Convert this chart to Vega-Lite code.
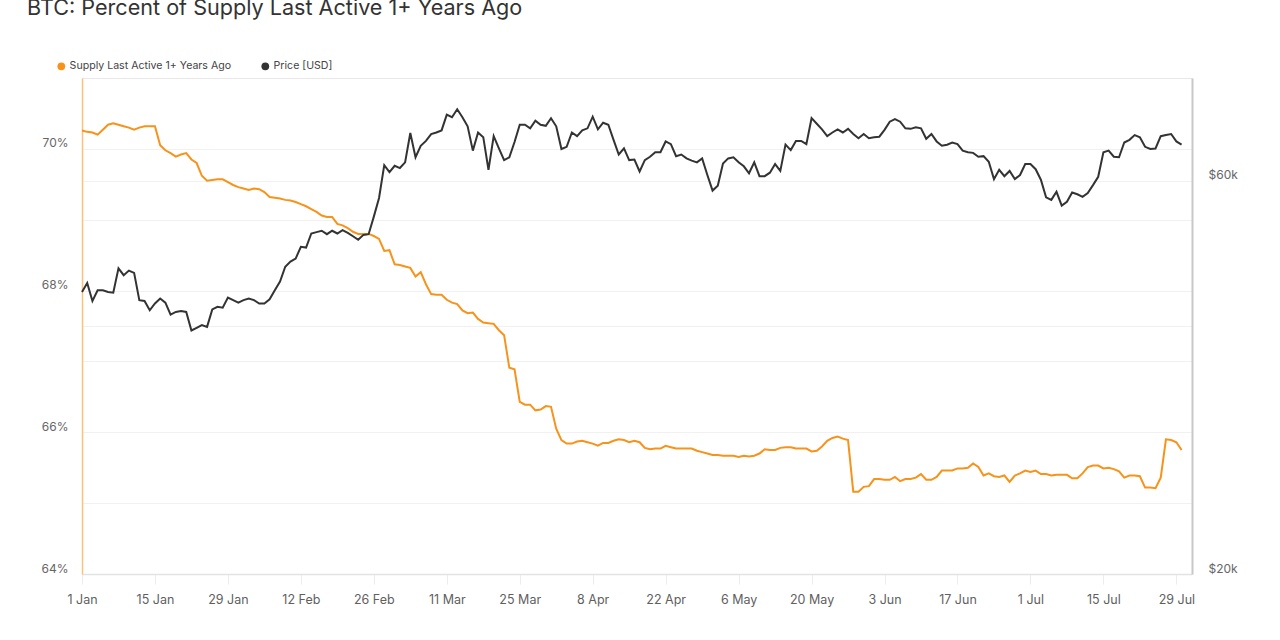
{
  "$schema": "https://vega.github.io/schema/vega-lite/v6.json",
  "width": 1110,
  "height": 496,
  "autosize": {"type": "none"},
  "padding": {"left": 82, "top": 78, "right": 88, "bottom": 66},
  "background": "white",
  "title": {"text": "BTC: Percent of Supply Last Active 1+ Years Ago", "anchor": "start", "frame": "group", "dx": -55, "offset": 41, "fontSize": 21.6, "font": "Inter", "fontWeight": "normal", "color": "#333333"},
  "config": {
    "view": {"stroke": "#e8e8e8"},
    "axis": {"labelFont": "Inter", "labelFontSize": 12, "labelColor": "#666666", "gridColor": "#f1f1f1", "titleFont": "Inter"}
  },
  "data": {"values": [
    {"date": "2024-01-01", "supply": 70.26, "price": 44000},
    {"date": "2024-01-02", "supply": 70.24, "price": 45100},
    {"date": "2024-01-03", "supply": 70.23, "price": 42900},
    {"date": "2024-01-04", "supply": 70.20, "price": 44200},
    {"date": "2024-01-05", "supply": 70.27, "price": 44200},
    {"date": "2024-01-06", "supply": 70.34, "price": 44000},
    {"date": "2024-01-07", "supply": 70.36, "price": 43900},
    {"date": "2024-01-08", "supply": 70.34, "price": 47000},
    {"date": "2024-01-09", "supply": 70.32, "price": 46100},
    {"date": "2024-01-10", "supply": 70.30, "price": 46700},
    {"date": "2024-01-11", "supply": 70.27, "price": 46400},
    {"date": "2024-01-12", "supply": 70.30, "price": 43000},
    {"date": "2024-01-13", "supply": 70.32, "price": 42900},
    {"date": "2024-01-14", "supply": 70.32, "price": 41800},
    {"date": "2024-01-15", "supply": 70.32, "price": 42600},
    {"date": "2024-01-16", "supply": 70.05, "price": 43200},
    {"date": "2024-01-17", "supply": 69.98, "price": 42700},
    {"date": "2024-01-18", "supply": 69.94, "price": 41300},
    {"date": "2024-01-19", "supply": 69.89, "price": 41600},
    {"date": "2024-01-20", "supply": 69.92, "price": 41700},
    {"date": "2024-01-21", "supply": 69.94, "price": 41600},
    {"date": "2024-01-22", "supply": 69.85, "price": 39500},
    {"date": "2024-01-23", "supply": 69.80, "price": 39800},
    {"date": "2024-01-24", "supply": 69.62, "price": 40100},
    {"date": "2024-01-25", "supply": 69.55, "price": 39900},
    {"date": "2024-01-26", "supply": 69.56, "price": 41900},
    {"date": "2024-01-27", "supply": 69.57, "price": 42200},
    {"date": "2024-01-28", "supply": 69.57, "price": 42100},
    {"date": "2024-01-29", "supply": 69.53, "price": 43300},
    {"date": "2024-01-30", "supply": 69.49, "price": 43000},
    {"date": "2024-01-31", "supply": 69.46, "price": 42700},
    {"date": "2024-02-01", "supply": 69.44, "price": 43000},
    {"date": "2024-02-02", "supply": 69.42, "price": 43200},
    {"date": "2024-02-03", "supply": 69.44, "price": 43000},
    {"date": "2024-02-04", "supply": 69.43, "price": 42600},
    {"date": "2024-02-05", "supply": 69.39, "price": 42600},
    {"date": "2024-02-06", "supply": 69.32, "price": 43100},
    {"date": "2024-02-07", "supply": 69.31, "price": 44200},
    {"date": "2024-02-08", "supply": 69.30, "price": 45300},
    {"date": "2024-02-09", "supply": 69.28, "price": 47200},
    {"date": "2024-02-10", "supply": 69.27, "price": 47900},
    {"date": "2024-02-11", "supply": 69.25, "price": 48300},
    {"date": "2024-02-12", "supply": 69.22, "price": 49900},
    {"date": "2024-02-13", "supply": 69.19, "price": 49800},
    {"date": "2024-02-14", "supply": 69.15, "price": 51800},
    {"date": "2024-02-15", "supply": 69.11, "price": 52000},
    {"date": "2024-02-16", "supply": 69.06, "price": 52200},
    {"date": "2024-02-17", "supply": 69.04, "price": 51700},
    {"date": "2024-02-18", "supply": 69.04, "price": 52200},
    {"date": "2024-02-19", "supply": 68.94, "price": 51800},
    {"date": "2024-02-20", "supply": 68.92, "price": 52300},
    {"date": "2024-02-21", "supply": 68.88, "price": 51900},
    {"date": "2024-02-22", "supply": 68.83, "price": 51400},
    {"date": "2024-02-23", "supply": 68.80, "price": 50900},
    {"date": "2024-02-24", "supply": 68.80, "price": 51600},
    {"date": "2024-02-25", "supply": 68.80, "price": 51700},
    {"date": "2024-02-26", "supply": 68.77, "price": 54300},
    {"date": "2024-02-27", "supply": 68.73, "price": 57200},
    {"date": "2024-02-28", "supply": 68.56, "price": 62700},
    {"date": "2024-02-29", "supply": 68.57, "price": 61500},
    {"date": "2024-03-01", "supply": 68.37, "price": 62600},
    {"date": "2024-03-02", "supply": 68.36, "price": 62200},
    {"date": "2024-03-03", "supply": 68.34, "price": 63200},
    {"date": "2024-03-04", "supply": 68.32, "price": 68600},
    {"date": "2024-03-05", "supply": 68.20, "price": 64100},
    {"date": "2024-03-06", "supply": 68.26, "price": 66200},
    {"date": "2024-03-07", "supply": 68.09, "price": 67100},
    {"date": "2024-03-08", "supply": 67.95, "price": 68400},
    {"date": "2024-03-09", "supply": 67.94, "price": 68700},
    {"date": "2024-03-10", "supply": 67.94, "price": 69100},
    {"date": "2024-03-11", "supply": 67.87, "price": 72200},
    {"date": "2024-03-12", "supply": 67.83, "price": 71700},
    {"date": "2024-03-13", "supply": 67.81, "price": 73300},
    {"date": "2024-03-14", "supply": 67.72, "price": 71700},
    {"date": "2024-03-15", "supply": 67.68, "price": 69900},
    {"date": "2024-03-16", "supply": 67.69, "price": 65300},
    {"date": "2024-03-17", "supply": 67.60, "price": 68700},
    {"date": "2024-03-18", "supply": 67.55, "price": 67800},
    {"date": "2024-03-19", "supply": 67.54, "price": 61900},
    {"date": "2024-03-20", "supply": 67.53, "price": 68000},
    {"date": "2024-03-21", "supply": 67.44, "price": 65700},
    {"date": "2024-03-22", "supply": 67.37, "price": 63600},
    {"date": "2024-03-23", "supply": 66.91, "price": 64100},
    {"date": "2024-03-24", "supply": 66.89, "price": 66900},
    {"date": "2024-03-25", "supply": 66.43, "price": 70200},
    {"date": "2024-03-26", "supply": 66.39, "price": 70200},
    {"date": "2024-03-27", "supply": 66.39, "price": 69500},
    {"date": "2024-03-28", "supply": 66.31, "price": 71000},
    {"date": "2024-03-29", "supply": 66.32, "price": 70200},
    {"date": "2024-03-30", "supply": 66.37, "price": 70000},
    {"date": "2024-03-31", "supply": 66.36, "price": 71500},
    {"date": "2024-04-01", "supply": 66.05, "price": 69900},
    {"date": "2024-04-02", "supply": 65.89, "price": 65600},
    {"date": "2024-04-03", "supply": 65.84, "price": 66000},
    {"date": "2024-04-04", "supply": 65.84, "price": 68700},
    {"date": "2024-04-05", "supply": 65.87, "price": 68000},
    {"date": "2024-04-06", "supply": 65.88, "price": 69100},
    {"date": "2024-04-07", "supply": 65.86, "price": 69500},
    {"date": "2024-04-08", "supply": 65.84, "price": 71800},
    {"date": "2024-04-09", "supply": 65.81, "price": 69300},
    {"date": "2024-04-10", "supply": 65.85, "price": 70600},
    {"date": "2024-04-11", "supply": 65.85, "price": 70200},
    {"date": "2024-04-12", "supply": 65.88, "price": 67300},
    {"date": "2024-04-13", "supply": 65.90, "price": 64600},
    {"date": "2024-04-14", "supply": 65.89, "price": 65700},
    {"date": "2024-04-15", "supply": 65.86, "price": 63600},
    {"date": "2024-04-16", "supply": 65.88, "price": 63700},
    {"date": "2024-04-17", "supply": 65.86, "price": 61600},
    {"date": "2024-04-18", "supply": 65.78, "price": 63600},
    {"date": "2024-04-19", "supply": 65.76, "price": 64200},
    {"date": "2024-04-20", "supply": 65.77, "price": 65000},
    {"date": "2024-04-21", "supply": 65.77, "price": 65000},
    {"date": "2024-04-22", "supply": 65.81, "price": 67000},
    {"date": "2024-04-23", "supply": 65.79, "price": 66500},
    {"date": "2024-04-24", "supply": 65.77, "price": 64300},
    {"date": "2024-04-25", "supply": 65.77, "price": 64600},
    {"date": "2024-04-26", "supply": 65.77, "price": 63900},
    {"date": "2024-04-27", "supply": 65.77, "price": 63500},
    {"date": "2024-04-28", "supply": 65.74, "price": 63200},
    {"date": "2024-04-29", "supply": 65.72, "price": 63900},
    {"date": "2024-04-30", "supply": 65.70, "price": 61000},
    {"date": "2024-05-01", "supply": 65.68, "price": 58400},
    {"date": "2024-05-02", "supply": 65.68, "price": 59200},
    {"date": "2024-05-03", "supply": 65.67, "price": 63000},
    {"date": "2024-05-04", "supply": 65.67, "price": 63900},
    {"date": "2024-05-05", "supply": 65.67, "price": 64100},
    {"date": "2024-05-06", "supply": 65.65, "price": 63200},
    {"date": "2024-05-07", "supply": 65.67, "price": 62500},
    {"date": "2024-05-08", "supply": 65.66, "price": 61300},
    {"date": "2024-05-09", "supply": 65.67, "price": 63200},
    {"date": "2024-05-10", "supply": 65.70, "price": 60800},
    {"date": "2024-05-11", "supply": 65.76, "price": 60800},
    {"date": "2024-05-12", "supply": 65.75, "price": 61400},
    {"date": "2024-05-13", "supply": 65.75, "price": 62900},
    {"date": "2024-05-14", "supply": 65.78, "price": 61700},
    {"date": "2024-05-15", "supply": 65.79, "price": 66400},
    {"date": "2024-05-16", "supply": 65.79, "price": 65400},
    {"date": "2024-05-17", "supply": 65.77, "price": 67100},
    {"date": "2024-05-18", "supply": 65.77, "price": 67100},
    {"date": "2024-05-19", "supply": 65.77, "price": 66500},
    {"date": "2024-05-20", "supply": 65.73, "price": 71500},
    {"date": "2024-05-21", "supply": 65.74, "price": 70400},
    {"date": "2024-05-22", "supply": 65.80, "price": 69300},
    {"date": "2024-05-23", "supply": 65.88, "price": 68000},
    {"date": "2024-05-24", "supply": 65.92, "price": 68700},
    {"date": "2024-05-25", "supply": 65.94, "price": 69300},
    {"date": "2024-05-26", "supply": 65.91, "price": 68700},
    {"date": "2024-05-27", "supply": 65.89, "price": 69400},
    {"date": "2024-05-28", "supply": 65.16, "price": 68400},
    {"date": "2024-05-29", "supply": 65.16, "price": 67600},
    {"date": "2024-05-30", "supply": 65.23, "price": 68400},
    {"date": "2024-05-31", "supply": 65.24, "price": 67600},
    {"date": "2024-06-01", "supply": 65.34, "price": 67800},
    {"date": "2024-06-02", "supply": 65.34, "price": 67900},
    {"date": "2024-06-03", "supply": 65.33, "price": 69200},
    {"date": "2024-06-04", "supply": 65.33, "price": 70800},
    {"date": "2024-06-05", "supply": 65.37, "price": 71300},
    {"date": "2024-06-06", "supply": 65.31, "price": 70800},
    {"date": "2024-06-07", "supply": 65.34, "price": 69500},
    {"date": "2024-06-08", "supply": 65.34, "price": 69400},
    {"date": "2024-06-09", "supply": 65.36, "price": 69700},
    {"date": "2024-06-10", "supply": 65.41, "price": 69500},
    {"date": "2024-06-11", "supply": 65.33, "price": 67500},
    {"date": "2024-06-12", "supply": 65.33, "price": 68400},
    {"date": "2024-06-13", "supply": 65.37, "price": 67000},
    {"date": "2024-06-14", "supply": 65.46, "price": 66200},
    {"date": "2024-06-15", "supply": 65.46, "price": 66400},
    {"date": "2024-06-16", "supply": 65.46, "price": 66800},
    {"date": "2024-06-17", "supply": 65.49, "price": 66500},
    {"date": "2024-06-18", "supply": 65.49, "price": 65300},
    {"date": "2024-06-19", "supply": 65.50, "price": 65000},
    {"date": "2024-06-20", "supply": 65.56, "price": 64900},
    {"date": "2024-06-21", "supply": 65.51, "price": 64200},
    {"date": "2024-06-22", "supply": 65.39, "price": 64300},
    {"date": "2024-06-23", "supply": 65.42, "price": 63300},
    {"date": "2024-06-24", "supply": 65.38, "price": 60300},
    {"date": "2024-06-25", "supply": 65.37, "price": 61900},
    {"date": "2024-06-26", "supply": 65.39, "price": 60800},
    {"date": "2024-06-27", "supply": 65.30, "price": 61700},
    {"date": "2024-06-28", "supply": 65.39, "price": 60300},
    {"date": "2024-06-29", "supply": 65.42, "price": 61000},
    {"date": "2024-06-30", "supply": 65.46, "price": 62900},
    {"date": "2024-07-01", "supply": 65.44, "price": 62900},
    {"date": "2024-07-02", "supply": 65.46, "price": 62000},
    {"date": "2024-07-03", "supply": 65.41, "price": 60200},
    {"date": "2024-07-04", "supply": 65.41, "price": 57300},
    {"date": "2024-07-05", "supply": 65.39, "price": 56900},
    {"date": "2024-07-06", "supply": 65.40, "price": 58200},
    {"date": "2024-07-07", "supply": 65.40, "price": 56000},
    {"date": "2024-07-08", "supply": 65.40, "price": 56600},
    {"date": "2024-07-09", "supply": 65.35, "price": 58100},
    {"date": "2024-07-10", "supply": 65.35, "price": 57800},
    {"date": "2024-07-11", "supply": 65.42, "price": 57400},
    {"date": "2024-07-12", "supply": 65.51, "price": 58000},
    {"date": "2024-07-13", "supply": 65.53, "price": 59300},
    {"date": "2024-07-14", "supply": 65.53, "price": 60700},
    {"date": "2024-07-15", "supply": 65.49, "price": 65000},
    {"date": "2024-07-16", "supply": 65.50, "price": 65300},
    {"date": "2024-07-17", "supply": 65.48, "price": 64200},
    {"date": "2024-07-18", "supply": 65.45, "price": 64100},
    {"date": "2024-07-19", "supply": 65.36, "price": 66800},
    {"date": "2024-07-20", "supply": 65.39, "price": 67300},
    {"date": "2024-07-21", "supply": 65.39, "price": 68200},
    {"date": "2024-07-22", "supply": 65.38, "price": 67800},
    {"date": "2024-07-23", "supply": 65.22, "price": 66000},
    {"date": "2024-07-24", "supply": 65.22, "price": 65600},
    {"date": "2024-07-25", "supply": 65.21, "price": 65700},
    {"date": "2024-07-26", "supply": 65.36, "price": 68000},
    {"date": "2024-07-27", "supply": 65.90, "price": 68200},
    {"date": "2024-07-28", "supply": 65.89, "price": 68400},
    {"date": "2024-07-29", "supply": 65.86, "price": 67000},
    {"date": "2024-07-30", "supply": 65.75, "price": 66400}
  ]},
  "encoding": {
    "x": {
      "field": "date", "type": "temporal",
      "scale": {"type": "utc", "domain": [{"year": 2024, "month": 1, "date": 1, "utc": true}, {"year": 2024, "month": 8, "date": 1, "utc": true}]},
      "axis": {
        "title": null, "grid": false, "format": "%-d %b", "labelFlush": false,
        "values": [
          {"year": 2024, "month": 1, "date": 1, "utc": true},
          {"year": 2024, "month": 1, "date": 15, "utc": true},
          {"year": 2024, "month": 1, "date": 29, "utc": true},
          {"year": 2024, "month": 2, "date": 12, "utc": true},
          {"year": 2024, "month": 2, "date": 26, "utc": true},
          {"year": 2024, "month": 3, "date": 11, "utc": true},
          {"year": 2024, "month": 3, "date": 25, "utc": true},
          {"year": 2024, "month": 4, "date": 8, "utc": true},
          {"year": 2024, "month": 4, "date": 22, "utc": true},
          {"year": 2024, "month": 5, "date": 6, "utc": true},
          {"year": 2024, "month": 5, "date": 20, "utc": true},
          {"year": 2024, "month": 6, "date": 3, "utc": true},
          {"year": 2024, "month": 6, "date": 17, "utc": true},
          {"year": 2024, "month": 7, "date": 1, "utc": true},
          {"year": 2024, "month": 7, "date": 15, "utc": true},
          {"year": 2024, "month": 7, "date": 29, "utc": true}
        ],
        "domainColor": "#e3e3e3", "domainWidth": 1.5,
        "tickColor": "#ececec", "tickSize": 10, "labelPadding": 9,
        "labelFontSize": 12.5, "labelColor": "#5f5f5f"
      }
    }
  },
  "layer": [
    {
      "mark": {"type": "line", "strokeWidth": 2},
      "encoding": {
        "y": {
          "field": "supply", "type": "quantitative",
          "scale": {"domain": [64, 71], "nice": false, "zero": false},
          "axis": {
            "orient": "left", "title": null,
            "values": [64, 65, 66, 67, 68, 69, 70],
            "labelExpr": "datum.value % 2 === 0 ? datum.value + '%' : ''",
            "ticks": false, "labelPadding": 14, "labelOffset": -6,
            "domainColor": "#fbc17f", "domainWidth": 1.5, "grid": true
          }
        },
        "color": {
          "datum": "Supply Last Active 1+ Years Ago", "type": "nominal",
          "scale": {"domain": ["Supply Last Active 1+ Years Ago", "Price [USD]"], "range": ["#f7931a", "#333333"]},
          "legend": {
            "title": null, "orient": "none", "legendX": -26, "legendY": -17,
            "direction": "horizontal", "symbolType": "circle", "symbolSize": 60,
            "labelFont": "Inter", "labelFontSize": 10.6, "labelColor": "#444444", "labelLimit": 400,
            "columnPadding": 28, "labelOffset": 3,
            "encode": {"symbols": {"update": {"fill": {"scale": "color", "field": "value"}, "strokeWidth": {"value": 0}}}}
          }
        }
      }
    },
    {
      "mark": {"type": "line", "strokeWidth": 2},
      "encoding": {
        "y": {
          "field": "price", "type": "quantitative",
          "scale": {"type": "log", "domain": [20000, 80000], "nice": false},
          "axis": {
            "orient": "right", "title": null,
            "values": [20000, 40000, 60000],
            "labelExpr": "datum.value === 40000 ? '' : '$' + (datum.value / 1000) + 'k'",
            "ticks": false, "labelPadding": 16, "labelOffset": -6,
            "domainColor": "#c8c8c8", "domainWidth": 2, "grid": true
          }
        },
        "color": {"datum": "Price [USD]", "type": "nominal"}
      }
    }
  ],
  "resolve": {"scale": {"y": "independent"}}
}
